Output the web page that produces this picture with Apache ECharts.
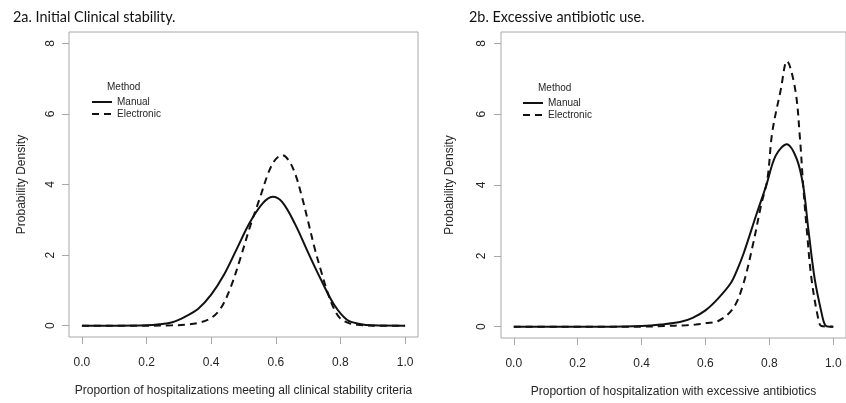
<!DOCTYPE html>
<html>
<head>
<meta charset="utf-8">
<script src="https://cdn.jsdelivr.net/npm/echarts@6/dist/echarts.min.js"></script>
<style>
html,body{margin:0;padding:0;background:#fff;}
#chart{width:846px;height:403px;}
</style>
</head>
<body>
<div id="chart"></div>
<script>
// Panel 2a: Initial clinical stability
const xA_manual = [0, 0.1, 0.2, 0.24, 0.28, 0.32, 0.36, 0.40, 0.44, 0.48, 0.52, 0.56, 0.59, 0.62, 0.66, 0.70, 0.74, 0.78, 0.82, 0.86, 0.90, 1.0];
const yA_manual = [0, 0, 0.01, 0.04, 0.10, 0.26, 0.48, 0.88, 1.45, 2.19, 2.93, 3.47, 3.65, 3.50, 2.87, 2.07, 1.30, 0.60, 0.17, 0.05, 0.01, 0];
const xA_elec = [0, 0.2, 0.28, 0.32, 0.36, 0.40, 0.43, 0.46, 0.49, 0.52, 0.55, 0.58, 0.60, 0.62, 0.64, 0.66, 0.68, 0.70, 0.72, 0.74, 0.76, 0.78, 0.80, 0.83, 0.86, 0.90, 1.0];
const yA_elec = [0, 0, 0.01, 0.03, 0.08, 0.22, 0.50, 1.08, 1.90, 2.80, 3.60, 4.40, 4.72, 4.83, 4.68, 4.30, 3.68, 2.95, 2.20, 1.55, 0.95, 0.48, 0.20, 0.06, 0.02, 0, 0];
// Panel 2b: Excessive antibiotic use
const xB_manual = [0, 0.3, 0.4, 0.46, 0.52, 0.56, 0.60, 0.64, 0.68, 0.70, 0.72, 0.76, 0.79, 0.82, 0.855, 0.886, 0.906, 0.922, 0.942, 0.963, 0.975, 0.99, 1.0];
const yB_manual = [0, 0, 0.02, 0.06, 0.13, 0.25, 0.46, 0.80, 1.24, 1.62, 2.08, 3.18, 3.98, 4.83, 5.15, 4.73, 3.98, 2.76, 1.35, 0.41, 0.04, 0, 0];
const xB_elec = [0, 0.4, 0.47, 0.54, 0.57, 0.60, 0.64, 0.686, 0.717, 0.748, 0.774, 0.794, 0.809, 0.836, 0.855, 0.881, 0.896, 0.906, 0.917, 0.932, 0.953, 0.963, 1.0];
const yB_elec = [0, 0, 0.02, 0.04, 0.06, 0.10, 0.16, 0.51, 1.16, 2.29, 3.42, 4.17, 5.48, 6.70, 7.50, 6.70, 5.30, 3.98, 2.76, 1.35, 0.23, 0.02, 0];

const xTicks = [0, 0.2, 0.4, 0.6, 0.8, 1.0];
const yTicks = [0, 2, 4, 6, 8];
const seriesNames = ['Manual', 'Electronic'];
const titles = ['2a. Initial Clinical stability.', '2b. Excessive antibiotic use.'];
const xNames = ['Proportion of hospitalizations meeting all clinical stability criteria', 'Proportion of hospitalization with excessive antibiotics'];
const yName = 'Probability Density';
const legendTitle = 'Method';

const pairs = (xs, ys) => xs.map((x, i) => [x, ys[i]]);
const boxColor = '#a8a8a8';
const txtColor = '#262626';
const font = 'Liberation Sans';

function xAxis(idx, name, gap) {
  return {
    type: 'value', gridIndex: idx, min: -0.04, max: 1.04,
    name: name, nameLocation: 'middle', nameGap: gap,
    nameTextStyle: {fontFamily: font, fontSize: 12, color: txtColor},
    axisLine: {show: false, onZero: false},
    axisTick: {show: true, length: 7, lineStyle: {color: boxColor}, customValues: xTicks},
    axisLabel: {fontFamily: font, fontSize: 12, color: txtColor, margin: 20, customValues: xTicks,
      formatter: v => v.toFixed(1)},
    splitLine: {show: false}
  };
}
function yAxis(idx, gap, lmargin) {
  return {
    type: 'value', gridIndex: idx, min: -0.32, max: 8.32,
    name: yName, nameLocation: 'middle', nameGap: gap,
    nameTextStyle: {fontFamily: font, fontSize: 12, color: txtColor},
    axisLine: {show: false, onZero: false},
    axisTick: {show: true, length: 7, lineStyle: {color: boxColor}, customValues: yTicks},
    axisLabel: {fontFamily: font, fontSize: 12, color: txtColor, margin: lmargin, rotate: 90, customValues: yTicks},
    splitLine: {show: false}
  };
}
function line(name, data, idx, dashed) {
  return {
    type: 'line', name: name, xAxisIndex: idx, yAxisIndex: idx,
    data: data, showSymbol: false, symbol: 'none', smooth: 0.35,
    lineStyle: {color: '#111', width: 2, type: dashed ? [7, 5] : 'solid'},
    itemStyle: {color: '#111'},
    emphasis: {disabled: true}
  };
}
function legend(left, top) {
  return {
    data: seriesNames, orient: 'vertical', left: left, top: top,
    itemWidth: 20, itemHeight: 10, itemGap: 2, padding: 0,
    itemStyle: {opacity: 0},
    textStyle: {fontFamily: font, fontSize: 10, color: txtColor}
  };
}

const chart = echarts.init(document.getElementById('chart'), null, {renderer: 'canvas'});
chart.setOption({
  animation: false,
  backgroundColor: '#fff',
  title: [
    {text: titles[0], left: 13, top: 10, padding: 0, textStyle: {fontFamily: 'Lato', fontSize: 14.4, fontWeight: 'normal', color: '#111'}},
    {text: titles[1], left: 469, top: 10, padding: 0, textStyle: {fontFamily: 'Lato', fontSize: 14.4, fontWeight: 'normal', color: '#111'}},
    {text: legendTitle, left: 107, top: 82, padding: 0, textStyle: {fontFamily: font, fontSize: 10, fontWeight: 'normal', color: txtColor}},
    {text: legendTitle, left: 538, top: 83, padding: 0, textStyle: {fontFamily: font, fontSize: 10, fontWeight: 'normal', color: txtColor}}
  ],
  legend: [legend(91, 97), legend(522, 98)],
  grid: [
    {left: 69, top: 32, width: 349, height: 305, show: true, borderColor: boxColor, borderWidth: 1, backgroundColor: 'transparent'},
    {left: 501, top: 32, width: 351, height: 307, show: true, borderColor: boxColor, borderWidth: 1, backgroundColor: 'transparent'}
  ],
  xAxis: [xAxis(0, xNames[0], 48), xAxis(1, xNames[1], 48)],
  yAxis: [yAxis(0, 41, 12), yAxis(1, 45, 13)],
  series: [
    line(seriesNames[0], pairs(xA_manual, yA_manual), 0, false),
    line(seriesNames[1], pairs(xA_elec, yA_elec), 0, true),
    line(seriesNames[0], pairs(xB_manual, yB_manual), 1, false),
    line(seriesNames[1], pairs(xB_elec, yB_elec), 1, true)
  ]
});
</script>
</body>
</html>
